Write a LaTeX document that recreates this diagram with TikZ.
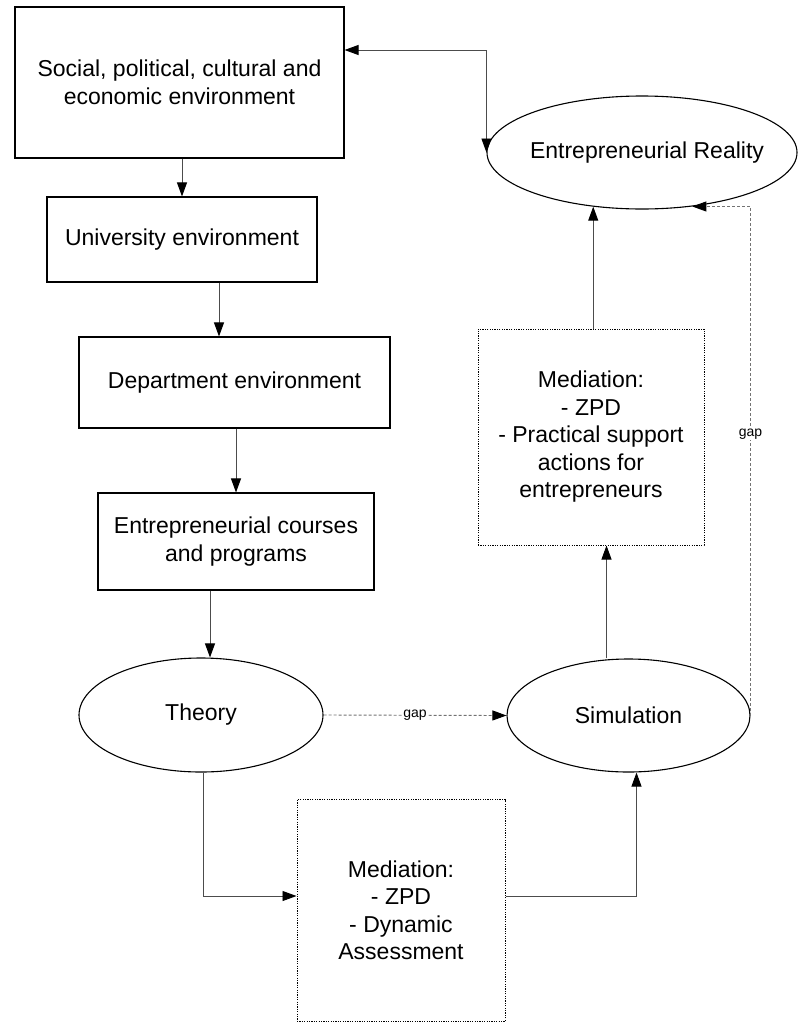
\documentclass[tikz,border=0pt]{standalone}
\usepackage{fontspec}
\setmainfont{Liberation Sans}
\usetikzlibrary{arrows.meta,shapes.geometric,calc}
\begin{document}
\begin{tikzpicture}[x=1pt,y=-1pt,
  >={Triangle[length=14pt,width=10pt,color=black]},
  txt/.style={font=\fontsize{23}{27.5}\selectfont, align=center, inner sep=0pt},
  box/.style={txt, draw=black, line width=1.1pt, rectangle},
  oval/.style={txt, draw=black, line width=1.1pt, ellipse},
  medbox/.style={txt, draw=black, line width=1pt, dash pattern=on 1.2pt off 1.2pt, rectangle},
  conn/.style={draw=black!70, line width=0.9pt, ->},
  gapconn/.style={conn, draw=black!55, dash pattern=on 3pt off 2pt},
  gaplabel/.style={fill=white, font=\fontsize{14}{16}\selectfont, inner sep=1pt, text=black}
]
\useasboundingbox (0,0) rectangle (798,1023);

\node[box, minimum width=329pt, minimum height=151pt] (b1) at (179.5,82.5) {Social, political, cultural and\\economic environment};
\node[box, minimum width=270pt, minimum height=85pt] (b2) at (182,239.5) {University environment};
\node[box, minimum width=311pt, minimum height=91pt] (b3) at (234.5,382.5) {Department environment};
\node[box, minimum width=276pt, minimum height=97pt] (b4) at (236,541.5) {Entrepreneurial courses\\and programs};

\node[oval, minimum width=244pt, minimum height=114pt] (theory) at (201,715) {Theory};
\node[oval, minimum width=243pt, minimum height=113pt] (sim) at (628.5,715.5) {Simulation};
\node[oval, minimum width=310pt, minimum height=113pt] (real) at (642,152.5) {\makebox[0pt]{\hspace{10pt}Entrepreneurial Reality}};

\node[medbox, minimum width=226pt, minimum height=216pt] (m1) at (591,437) {Mediation:\\- ZPD\\- Practical support\\actions for\\entrepreneurs};
\node[medbox, minimum width=208pt, minimum height=222pt] (m2) at (401,910.5) {Mediation:\\- ZPD\\- Dynamic\\Assessment};

% vertical chain
\draw[conn] (b2.north |- b1.south) -- (b2.north);
\draw[conn] ([xshift=37pt]b2.south) -- ([xshift=37pt]b2.south |- b3.north);
\draw[conn] (b4.north |- b3.south) -- (b4.north);
\draw[conn] ([xshift=-26pt]b4.south) -- ([xshift=-26pt]b4.south |- theory.north);

% two-way link
\draw[conn, <->] ([yshift=32.5pt]b1.east) -| (real.west);

% theory -> mediation -> simulation
\draw[conn] ([xshift=2pt]theory.south) |- ([yshift=14.5pt]m2.west);
\draw[conn] ([yshift=14.5pt]m2.east) -| ([xshift=8pt]sim.south);

% simulation -> mediation -> reality
\draw[conn] ([xshift=-22pt]sim.north) -- ([xshift=-22pt]sim.north |- m1.south);
\draw[conn] (real.228 |- m1.north) -- (real.228);

% gaps
\draw[gapconn] (theory.east) -- node[gaplabel] {gap} (sim.west);
\draw[gapconn] (sim.east) |- node[gaplabel, pos=0.2765] {gap} (real.313);
\end{tikzpicture}
\end{document}
